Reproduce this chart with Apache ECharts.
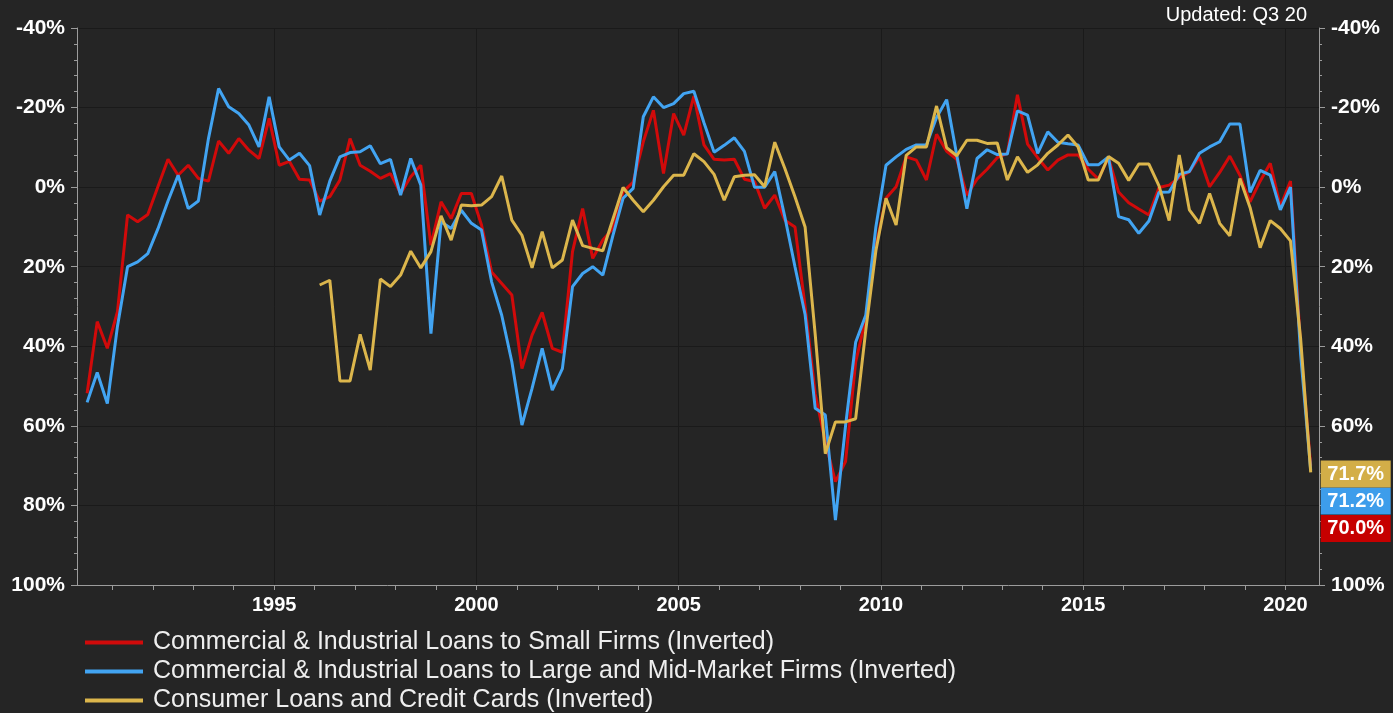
<!DOCTYPE html>
<html>
<head>
<meta charset="utf-8">
<title>Lending standards (inverted)</title>
<script src="https://cdn.jsdelivr.net/npm/echarts@6/dist/echarts.min.js"></script>
<style>
  html, body { margin: 0; padding: 0; background: #252525; }
  #chart { width: 1393px; height: 713px; }
</style>
</head>
<body>
<div id="chart"></div>
<script>
// Quarterly net % of banks tightening standards, plotted inverted.
// Both C&I series start in 1990 Q2, consumer series in 1996 Q1.
const cniStart = { year: 1990, quarter: 2 };
const consumerStart = { year: 1996, quarter: 1 };

const smallFirms = [
  51.8, 33.8, 40.5, 31.3, 7.0, 8.7, 6.9, -0.1, -7.0, -3.0,
  -5.5, -2.2, -1.5, -11.6, -8.5, -12.2, -9.3, -7.2, -17.3, -5.5,
  -6.5, -2.0, -1.8, 3.5, 2.4, -1.8, -12.2, -5.5, -4.0, -2.2,
  -3.4, 1.6, -2.6, -5.5, 14.6, 3.7, 7.9, 1.6, 1.6, 9.5,
  21.3, 24.2, 27.1, 45.6, 37.2, 31.5, 40.5, 41.5, 16.2, 5.4,
  17.9, 13.3, 10.4, 1.2, -1.3, -11.4, -19.3, -3.4, -18.5, -13.1,
  -22.9, -10.6, -7.0, -6.8, -7.0, -2.0, -1.4, 5.3, 2.0, 8.3,
  10.0, 30.0, 52.0, 64.0, 74.0, 69.0, 44.0, 33.0, 15.0, 2.8,
  -0.1, -7.6, -6.8, -1.8, -13.3, -9.0, -7.0, 2.0, -2.0, -4.5,
  -7.4, -8.5, -23.2, -10.8, -7.4, -4.3, -6.8, -8.1, -8.1, -4.5,
  -2.0, -7.4, 1.2, 3.9, 5.5, 7.0, 0.1, -0.5, -2.4, -3.9,
  -7.6, -0.1, -3.7, -7.8, -3.0, 3.7, -1.5, -6.0, 4.9, -1.5,
  40.0, 70.0
];

const largeFirms = [
  54.1, 46.6, 54.4, 35.0, 20.0, 18.8, 16.7, 10.5, 3.5, -3.0,
  5.4, 3.5, -12.2, -24.8, -20.2, -18.5, -15.6, -10.1, -22.7, -10.1,
  -6.8, -8.5, -5.4, 7.0, -1.5, -7.6, -8.7, -8.9, -10.4, -5.9,
  -7.0, 2.0, -7.2, -0.5, 36.8, 8.7, 10.4, 5.8, 9.1, 10.8,
  23.8, 32.2, 43.9, 59.8, 50.6, 40.5, 51.0, 45.6, 25.0, 21.7,
  20.0, 22.1, 12.1, 2.8, 0.3, -17.7, -22.7, -20.0, -21.0, -23.5,
  -24.1, -16.2, -8.8, -10.5, -12.4, -9.0, 0.0, 0.0, -3.9, 7.5,
  20.0, 32.0, 55.6, 57.3, 83.7, 60.0, 39.0, 32.2, 10.0, -5.5,
  -7.6, -9.5, -10.6, -10.6, -17.5, -22.0, -8.0, 5.4, -7.2, -9.4,
  -8.2, -8.3, -19.2, -18.1, -8.5, -13.9, -11.3, -10.9, -10.6, -5.6,
  -5.6, -7.6, 7.4, 8.2, 11.6, 8.5, 1.3, 1.2, -3.2, -3.9,
  -8.5, -10.1, -11.4, -15.9, -15.9, 1.3, -4.2, -3.0, 5.7, 0.0,
  42.0, 71.2
];

const consumerLoans = [
  24.6, 23.4, 48.7, 48.7, 37.0, 46.0, 23.1,
  25.0, 22.1, 16.1, 20.3, 16.2, 7.2, 13.3, 4.5, 4.7, 4.5,
  2.4, -2.8, 8.3, 12.1, 20.3, 11.2, 20.3, 18.3, 8.3, 14.7,
  15.4, 16.0, 8.0, 0.1, 3.3, 6.2, 3.3, -0.1, -3.0, -3.0,
  -8.4, -6.4, -3.2, 3.3, -2.6, -3.0, -3.1, -0.1, -11.3, -4.7,
  2.4, 10.0, 37.0, 67.0, 59.0, 59.0, 58.2, 36.0, 16.0, 2.8,
  9.5, -8.0, -10.1, -10.1, -20.4, -9.9, -7.9, -11.8, -11.8, -11.0,
  -11.1, -1.8, -7.6, -3.7, -5.6, -8.5, -10.6, -13.1, -10.1, -1.8,
  -1.8, -7.7, -6.0, -1.7, -5.8, -5.8, -0.3, 8.4, -8.1, 5.7,
  9.1, 1.6, 9.1, 12.2, -2.2, 5.1, 15.2, 8.4, 10.4, 13.5,
  38.0, 71.7
];

const seriesNames = [
  'Commercial & Industrial Loans to Small Firms (Inverted)',
  'Commercial & Industrial Loans to Large and Mid-Market Firms (Inverted)',
  'Consumer Loans and Credit Cards (Inverted)'
];
const seriesColors = ['#d10a0a', '#42a4f2', '#dcb64c'];
const tagColors = ['#c60000', '#3d9deb', '#d3ae48'];

const yTicks = [-40, -20, 0, 20, 40, 60, 80, 100];
const xLabelYears = [1995, 2000, 2005, 2010, 2015, 2020];
const xTickYears = [];
for (let y = 1991; y <= 2020; y++) xTickYears.push(y);

const updatedNote = 'Updated: Q3 20';

// decimal-year position of a quarter (mid-quarter)
function quarterPos(start, idx) {
  const q = start.quarter - 1 + idx;
  return start.year + Math.floor(q / 4) + ((q % 4) + 0.5) / 4;
}
function toPoints(start, values) {
  return values.map((v, i) => [quarterPos(start, i), v]);
}

const FONT = '"Liberation Sans", Arial, Helvetica, sans-serif';
const AXIS_GRAY = '#9c9c9c';
const GRID_DARK = '#1a1a1a';

// value tags stacked beside the right axis
const tagShift = [62.9, 30.6, 1.6];
function lastTag(start, values, k) {
  const i = values.length - 1;
  return {
    symbol: 'rect',
    symbolSize: [70, 27],
    symbolOffset: [45, tagShift[k]],
    itemStyle: { color: tagColors[k] },
    label: {
      show: true, position: 'inside', color: '#fff',
      fontFamily: FONT, fontWeight: 'bold', fontSize: 20,
      formatter: p => p.value.toFixed(1) + '%'
    },
    silent: true,
    data: [{ coord: [quarterPos(start, i), values[i]], value: values[i] }]
  };
}

function lineSeries(k, start, values) {
  return {
    name: seriesNames[k],
    type: 'line',
    data: toPoints(start, values),
    showSymbol: false,
    symbol: 'none',
    color: seriesColors[k],
    lineStyle: { width: 3, color: seriesColors[k] },
    z: 3 + k,
    markPoint: lastTag(start, values, k)
  };
}

const yAxisBase = {
  type: 'value',
  inverse: true,
  min: yTicks[0],
  max: yTicks[yTicks.length - 1],
  interval: 20,
  axisLine: { show: true, lineStyle: { color: AXIS_GRAY, width: 1 } },
  axisTick: { show: true, length: 6, lineStyle: { color: AXIS_GRAY } },
  minorTick: { show: true, splitNumber: 5, length: 3, lineStyle: { color: AXIS_GRAY } },
  axisLabel: {
    color: '#ffffff', fontFamily: FONT, fontWeight: 'bold', fontSize: 21, margin: 12,
    formatter: v => v + '%'
  }
};

const series = [
  lineSeries(0, cniStart, smallFirms),
  lineSeries(1, cniStart, largeFirms),
  lineSeries(2, consumerStart, consumerLoans)
];
// faint vertical guides at the labelled years
series[0].markLine = {
  silent: true,
  z: 1,
  symbol: 'none',
  label: { show: false },
  lineStyle: { color: GRID_DARK, width: 1, type: 'solid' },
  data: xLabelYears.map(y => ({ xAxis: y }))
};

const option = {
  animation: false,
  backgroundColor: '#252525',
  title: {
    text: updatedNote,
    right: 86, top: 5, padding: 0,
    textStyle: { color: '#ffffff', fontFamily: FONT, fontWeight: 'normal', fontSize: 20 }
  },
  grid: { left: 77, right: 74, top: 28, bottom: 128, containLabel: false },
  xAxis: {
    type: 'value',
    min: 1990.125,
    max: 2020.83,
    axisLine: { show: true, onZero: false, lineStyle: { color: AXIS_GRAY, width: 1 } },
    axisTick: { show: true, length: 5, customValues: xTickYears, lineStyle: { color: AXIS_GRAY } },
    axisLabel: {
      customValues: xLabelYears,
      color: '#ffffff', fontFamily: FONT, fontWeight: 'bold', fontSize: 20, margin: 10,
      formatter: v => String(v)
    },
    splitLine: { show: false }
  },
  yAxis: [
    Object.assign({}, yAxisBase, {
      position: 'left',
      splitLine: { show: true, lineStyle: { color: GRID_DARK, width: 1 } }
    }),
    Object.assign({}, yAxisBase, {
      position: 'right',
      splitLine: { show: false }
    })
  ],
  legend: {
    orient: 'vertical',
    left: 85, top: 630, padding: 0,
    itemWidth: 58, itemHeight: 4, itemGap: 4,
    icon: 'rect',
    textStyle: { color: '#eeeeee', fontFamily: FONT, fontSize: 25, lineHeight: 25, padding: [0, 0, 0, 5] },
    data: seriesNames
  },
  series: series
};

const chart = echarts.init(document.getElementById('chart'), null, { renderer: 'canvas' });
chart.setOption(option);
</script>
</body>
</html>
